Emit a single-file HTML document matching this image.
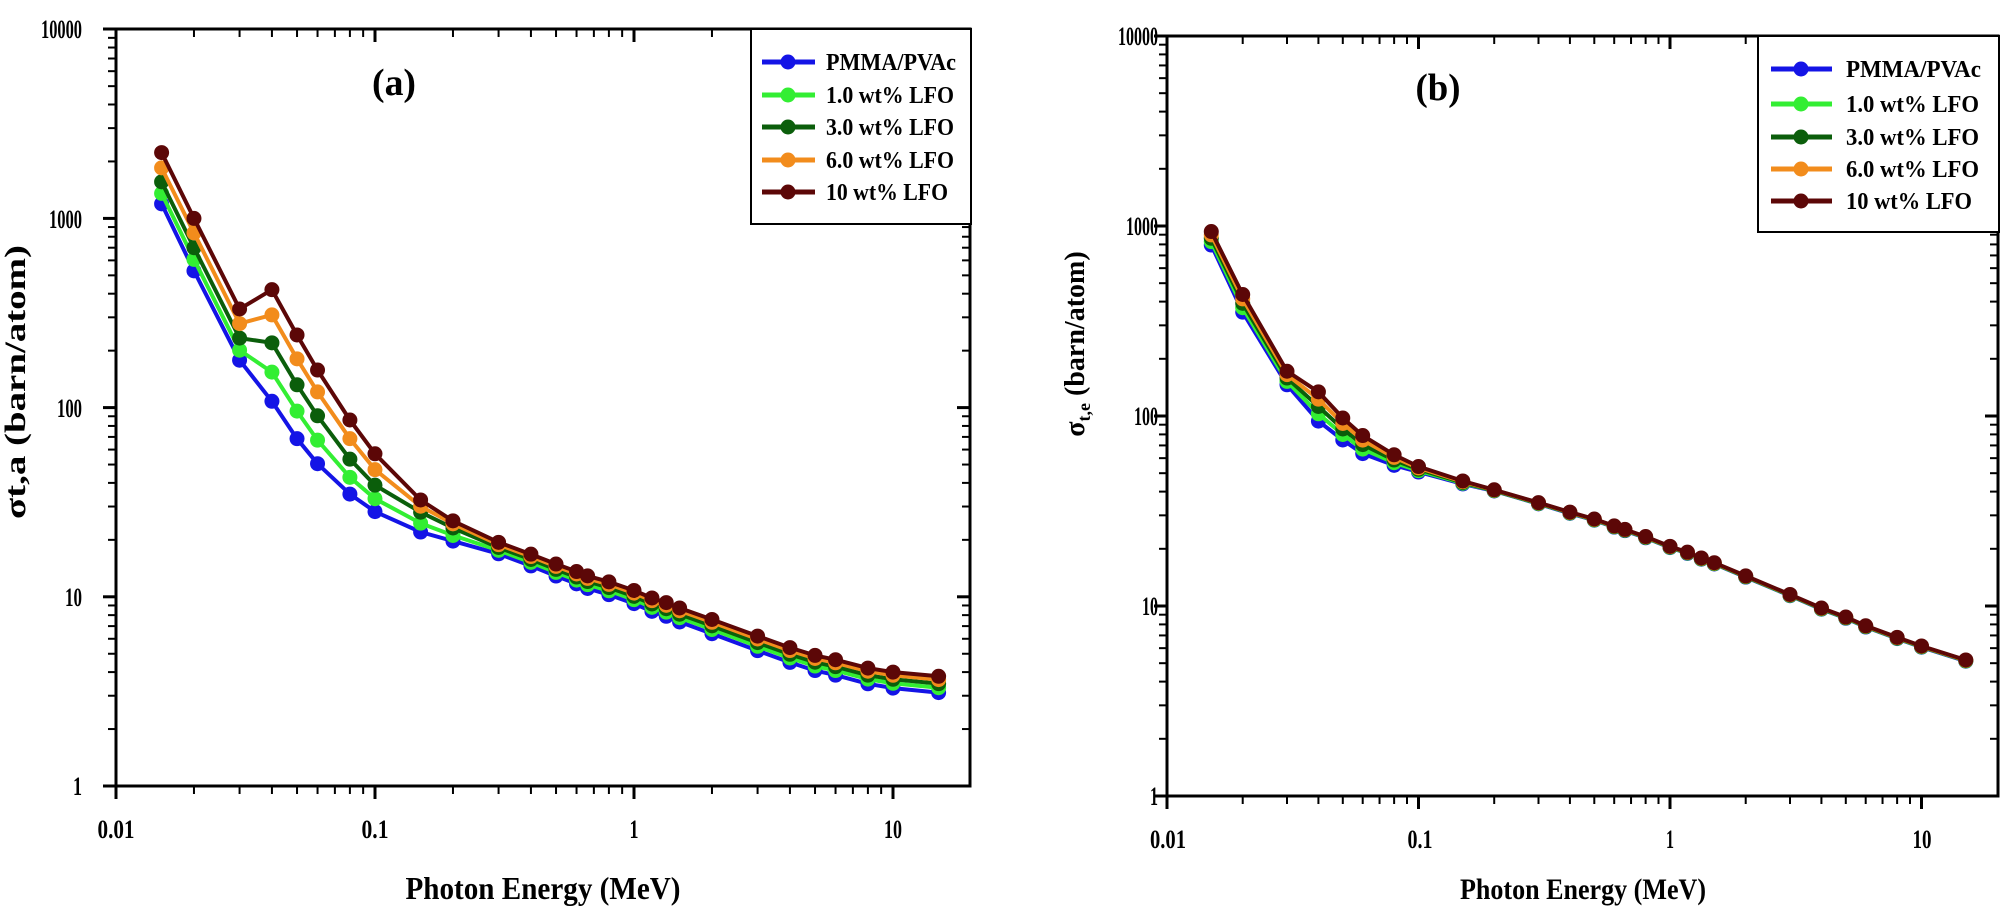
<!DOCTYPE html>
<html><head><meta charset="utf-8"><style>
html,body{margin:0;padding:0;background:#fff;}
svg{display:block;}
text{font-family:"Liberation Serif",serif;font-weight:bold;fill:#000;}
</style></head><body>
<svg id="s" width="2007" height="914" viewBox="0 0 2007 914" xmlns="http://www.w3.org/2000/svg">
<g id="plots"></g>
<!-- Panel a labels -->
<g font-size="26">
<text x="82" y="38" text-anchor="end" textLength="41" lengthAdjust="spacingAndGlyphs">10000</text>
<text x="82" y="228" text-anchor="end" textLength="33" lengthAdjust="spacingAndGlyphs">1000</text>
<text x="82" y="417" text-anchor="end" textLength="25" lengthAdjust="spacingAndGlyphs">100</text>
<text x="82" y="606" text-anchor="end" textLength="17" lengthAdjust="spacingAndGlyphs">10</text>
<text x="82" y="795" text-anchor="end" textLength="9" lengthAdjust="spacingAndGlyphs">1</text>
<text x="116" y="838" text-anchor="middle" textLength="37" lengthAdjust="spacingAndGlyphs">0.01</text>
<text x="375" y="838" text-anchor="middle" textLength="27" lengthAdjust="spacingAndGlyphs">0.1</text>
<text x="634" y="838" text-anchor="middle" textLength="9" lengthAdjust="spacingAndGlyphs">1</text>
<text x="893" y="838" text-anchor="middle" textLength="18" lengthAdjust="spacingAndGlyphs">10</text>
</g>
<text x="543" y="899" font-size="32" text-anchor="middle" textLength="275" lengthAdjust="spacingAndGlyphs">Photon Energy (MeV)</text>
<text x="394" y="95" font-size="38" text-anchor="middle" textLength="44" lengthAdjust="spacingAndGlyphs">(a)</text>
<text transform="translate(25,382) rotate(-90)" font-size="30" text-anchor="middle" textLength="274" lengthAdjust="spacingAndGlyphs">σt,a (barn/atom)</text>
<!-- Panel b labels -->
<g font-size="26">
<text x="1158" y="45" text-anchor="end" textLength="40" lengthAdjust="spacingAndGlyphs">10000</text>
<text x="1158" y="235" text-anchor="end" textLength="32" lengthAdjust="spacingAndGlyphs">1000</text>
<text x="1158" y="425" text-anchor="end" textLength="24" lengthAdjust="spacingAndGlyphs">100</text>
<text x="1158" y="615" text-anchor="end" textLength="16" lengthAdjust="spacingAndGlyphs">10</text>
<text x="1158" y="805" text-anchor="end" textLength="8" lengthAdjust="spacingAndGlyphs">1</text>
<text x="1168" y="848" text-anchor="middle" textLength="36" lengthAdjust="spacingAndGlyphs">0.01</text>
<text x="1420" y="848" text-anchor="middle" textLength="25" lengthAdjust="spacingAndGlyphs">0.1</text>
<text x="1670" y="848" text-anchor="middle" textLength="8" lengthAdjust="spacingAndGlyphs">1</text>
<text x="1922" y="848" text-anchor="middle" textLength="19" lengthAdjust="spacingAndGlyphs">10</text>
</g>
<text x="1583" y="899" font-size="30" text-anchor="middle" textLength="246" lengthAdjust="spacingAndGlyphs">Photon Energy (MeV)</text>
<text x="1438" y="100" font-size="38" text-anchor="middle" textLength="45" lengthAdjust="spacingAndGlyphs">(b)</text>
<text transform="translate(1084,344) rotate(-90)" font-size="28" text-anchor="middle">σ<tspan font-size="18" dy="6">t,e</tspan><tspan dy="-6"> (barn/atom)</tspan></text>
<!-- Legend a -->
<rect x="751" y="29" width="220" height="195" fill="#fff" stroke="#000" stroke-width="2"/>
<g font-size="24">
<text x="826" y="70" textLength="130" lengthAdjust="spacingAndGlyphs">PMMA/PVAc</text>
<text x="826" y="103" textLength="128" lengthAdjust="spacingAndGlyphs">1.0 wt% LFO</text>
<text x="826" y="135" textLength="128" lengthAdjust="spacingAndGlyphs">3.0 wt% LFO</text>
<text x="826" y="168" textLength="128" lengthAdjust="spacingAndGlyphs">6.0 wt% LFO</text>
<text x="826" y="200" textLength="122" lengthAdjust="spacingAndGlyphs">10 wt% LFO</text>
</g>
<!-- Legend b -->
<rect x="1758" y="36" width="241" height="196" fill="#fff" stroke="#000" stroke-width="2"/>
<g font-size="24">
<text x="1846" y="77" textLength="135" lengthAdjust="spacingAndGlyphs">PMMA/PVAc</text>
<text x="1846" y="112" textLength="133" lengthAdjust="spacingAndGlyphs">1.0 wt% LFO</text>
<text x="1846" y="145" textLength="133" lengthAdjust="spacingAndGlyphs">3.0 wt% LFO</text>
<text x="1846" y="177" textLength="133" lengthAdjust="spacingAndGlyphs">6.0 wt% LFO</text>
<text x="1846" y="209" textLength="126" lengthAdjust="spacingAndGlyphs">10 wt% LFO</text>
</g>
<g id="leg"></g>
</svg>
<script>
var NS="http://www.w3.org/2000/svg";
var G=document.getElementById("plots"),L=document.getElementById("leg");
function el(p,t,a){var e=document.createElementNS(NS,t);for(var k in a)e.setAttribute(k,a[k]);p.appendChild(e);return e;}
var cols=["#1414e6","#33ee33","#0b5e0b","#f28c1c","#5c0707"];
var E=[0.015,0.02,0.03,0.04,0.05,0.06,0.08,0.1,0.15,0.2,0.3,0.4,0.5,0.6,0.662,0.8,1,1.173,1.332,1.5,2,3,4,5,6,8,10,15];
var aBr=[2228,1000,332,420,242,158,86,57,32.5,25.2,19.4,16.8,14.9,13.6,12.9,12.0,10.8,9.86,9.32,8.73,7.59,6.2,5.39,4.9,4.65,4.2,4.0,3.8];
var aBl=[1194,528,178,108,68.5,50.5,34.9,28.2,22,19.7];
var aG1=[1355,607,201,154,95.8,67.3,42.8,33,24.5,21.1];
var aG3=[1560,700,233,220,132,90.5,53.4,38.9,28,23.1];
var aOr=[1850,838,278,309,181,121,68.5,47,30.1,24.3];
function ext(lo,f){var r=lo.slice();for(var i=lo.length;i<E.length;i++){var t=(i-10)/(E.length-11);var ratio=0.87-0.05*t;var bl=aBr[i]*ratio;r.push(Math.pow(10,Math.log10(bl)+f*(Math.log10(aBr[i])-Math.log10(bl))));}return r;}
var A=[ext(aBl,0),ext(aG1,0.3),ext(aG3,0.55),ext(aOr,0.8),aBr];
var bBr=[935,436,172,134,97.6,78.9,62.5,54.2,45.5,40.9,35,31.2,28.7,26.4,25.3,23.2,20.6,19.2,17.9,16.9,14.4,11.5,9.76,8.75,7.87,6.84,6.16,5.2];
var bBl=[794,352,146,94,74.8,63.4,55,50.7,43.9,40.3];
function bser(f){var r=[];for(var i=0;i<E.length;i++){var br=bBr[i],bl=i<bBl.length?bBl[i]:br*0.985;r.push(Math.pow(10,Math.log10(bl)+f*(Math.log10(br)-Math.log10(bl))));}return r;}
var B=[bser(0),bser(0.25),bser(0.5),bser(0.75),bBr];
function panel(x0,x1,y0,y1,dx,dy,data){
 var X=function(e){return x0+Math.log10(e/0.01)*dx;},Y=function(v){return y1-Math.log10(v)*dy;};
 for(var s=0;s<5;s++){var d="";for(var i=0;i<E.length;i++)d+=(i?"L":"M")+X(E[i]).toFixed(1)+","+Y(data[s][i]).toFixed(1);
  el(G,"path",{d:d,fill:"none",stroke:cols[s],"stroke-width":4,"stroke-linejoin":"round"});
  for(var i=0;i<E.length;i++)el(G,"circle",{cx:X(E[i]),cy:Y(data[s][i]),r:7.5,fill:cols[s]});}
 el(G,"rect",{x:x0,y:y0,width:x1-x0,height:y1-y0,fill:"none",stroke:"#000","stroke-width":3});
 for(var dec=0;dec<4;dec++)for(var m=1;m<10;m++){var e=0.01*Math.pow(10,dec)*m;var x=X(e);if(x>x1-2)continue;var big=m==1;
  el(G,"line",{x1:x,y1:y1,x2:x,y2:y1+(big?13:8),stroke:"#000","stroke-width":big?3:2});
  el(G,"line",{x1:x,y1:y0,x2:x,y2:y0+(big?13:8),stroke:"#000","stroke-width":big?3:2});}
 for(var dec=0;dec<4;dec++)for(var m=1;m<10;m++){var v=Math.pow(10,dec)*m;var y=Y(v);var big=m==1;
  el(G,"line",{x1:x0,y1:y,x2:x0-(big?13:8),y2:y,stroke:"#000","stroke-width":big?3:2});
  el(G,"line",{x1:x1,y1:y,x2:x1-(big?13:8),y2:y,stroke:"#000","stroke-width":big?3:2});}
 el(G,"line",{x1:x0,y1:y0,x2:x0-13,y2:y0,stroke:"#000","stroke-width":3});
}
panel(116,970,29,786,259,189.2,A);
panel(1167,1998,36,796,251.5,190,B);
function legend(xa,xb,xm,ys){for(var s=0;s<5;s++){el(L,"line",{x1:xa,y1:ys[s],x2:xb,y2:ys[s],stroke:cols[s],"stroke-width":5});el(L,"circle",{cx:xm,cy:ys[s],r:7.5,fill:cols[s]});}}
legend(762,815,788,[62,95,127,160,192]);
legend(1771,1832,1801,[69,104,137,169,201]);
</script>
</body></html>
